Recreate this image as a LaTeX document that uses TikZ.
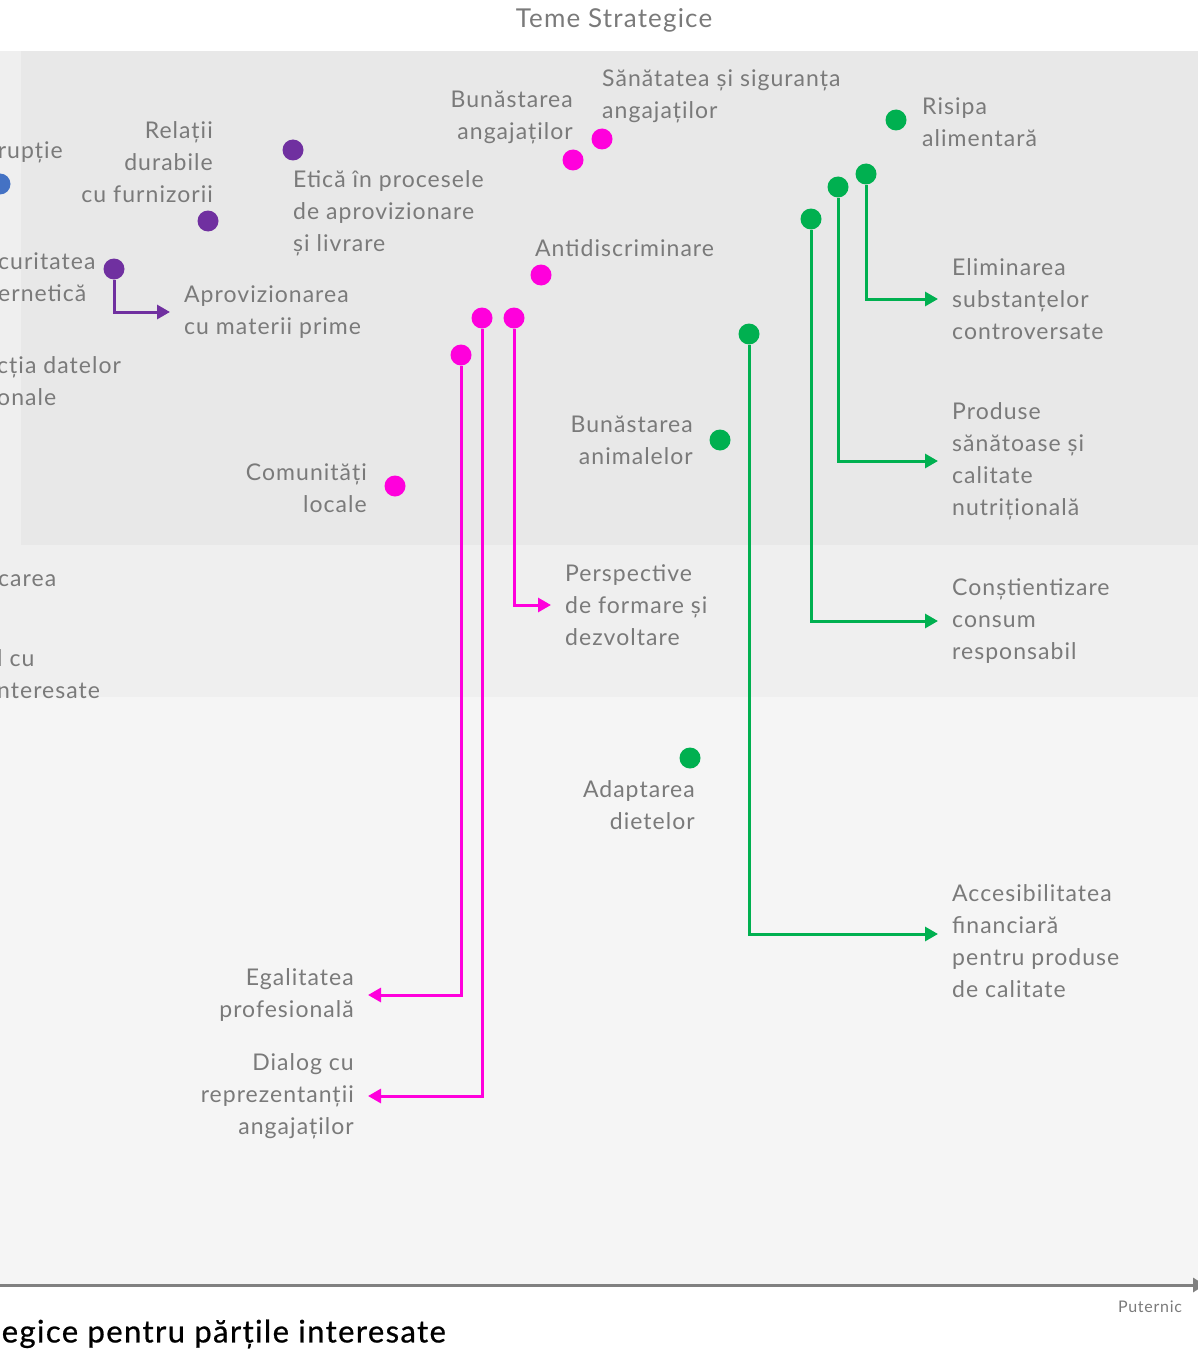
\documentclass[tikz,border=0pt]{standalone}
\usepackage{fontspec}
\setmainfont{Lato}[LetterSpace=4.5]
\newfontfamily\axisfont{Lato}[LetterSpace=4.5,FakeBold=0.7]
\usetikzlibrary{positioning,arrows.meta}
\definecolor{txtgray}{HTML}{7A7A7A}
\definecolor{axgray}{HTML}{808080}
\definecolor{pinkc}{HTML}{FF00DC}
\definecolor{greenc}{HTML}{00B050}
\definecolor{purplec}{HTML}{7030A0}
\definecolor{bluec}{HTML}{4472C4}
\definecolor{bandtop}{HTML}{E8E8E8}
\definecolor{bandmid}{HTML}{EFEFEF}
\definecolor{bandlow}{HTML}{F5F5F5}

\begin{document}
\begin{tikzpicture}[%
		x=1pt,
		y=-1pt,
		dot/.style={%
			circle,
			fill=#1,
			inner sep=0pt,
			minimum size=21pt
		},
		lbl/.style={%
			text=txtgray,
			font=\fontsize{23}{32}\selectfont,
			inner sep=0pt,
			yshift=-2pt
		},
		lblL/.style={lbl, anchor=west, align=left},
		lblR/.style={lbl, anchor=east, align=right},
		link/.style={%
			draw=#1,
			line width=3pt,
			-{Triangle[length=13pt,width=14pt]},
			shorten >=14pt
		}
		]
		\useasboundingbox (0,0) rectangle (1198,1351);
		\clip (0,0) rectangle (1198,1351);

		% bands
		\fill[bandmid] (0,51) rectangle (1198,697);
		\fill[bandtop] (21,51) rectangle (1198,545);
		\fill[bandlow] (0,697) rectangle (1198,1285);

		\node[lbl, font=\fontsize{26}{30}\selectfont] (title) at (614,18) {Teme Strategice};

		% axis
		\coordinate (axL) at (0,1285);
		\coordinate (axR) at (1205,1285);
		\draw[axgray, line width=3pt, -{Triangle[length=12pt,width=14pt]}] (axL) -- (axR);
		\node[lbl, font=\fontsize{16}{18}\selectfont] (strong) at (1150,1305) {Puternic};
		\node[lbl, text=black, anchor=east, font=\axisfont\fontsize{31}{36}\selectfont] (xtitle) at (446,1332) {egice pentru părțile interesate};

		% cut-off labels on the left edge
		\node[lblR] (l1) at (63,150) {rupție};
		\node[lblL] (l2) at (-2,275) {curitatea\\ernetică};
		\node[lblL] (l3) at (-3,379) {cția datelor\\onale};
		\node[lblL] (l4) at (-2,579) {carea};
		\node[lblL] (l5) at (-3,672) {l cu\\nteresate};

		% purple
		\node[dot=bluec] (d0) at (0,184) {};
		\node[dot=purplec] (p1) at (293,150) {};
		\node[dot=purplec] (p2) at (208,221) {};
		\node[dot=purplec] (p3) at (114,269) {};
		\node[lblL] (etica) at (293,211) {Etică în procesele\\de aprovizionare\\și livrare};
		\node[lblR] (relatii) at (213,160) {Relații\\durabile\\cu furnizorii};
		\node[lblL] (aprov) at (184,310) {Aprovizionarea\\cu materii prime};

		% pink
		\node[dot=pinkc] (k1) at (573,160) {};
		\node[dot=pinkc] (k2) at (602,139) {};
		\node[dot=pinkc] (k3) at (541,275) {};
		\node[dot=pinkc] (k4) at (482,318) {};
		\node[dot=pinkc] (k5) at (514,318) {};
		\node[dot=pinkc] (k6) at (461,355) {};
		\node[dot=pinkc] (k7) at (395,486) {};
		\node[lblR] (bunang) at (573,115) {Bunăstarea\\angajaților};
		\node[lblL] (sanat) at (602,94) {Sănătatea și siguranța\\angajaților};
		\node[lblL] (antid) at (535,246) {Antidiscriminare};
		\node[lblL] (persp) at (565,603) {Perspective\\de formare și\\dezvoltare};
		\node[lblR] (dialog) at (354,1094) {Dialog cu\\reprezentanții\\angajaților};
		\node[lblR] (egal) at (354,993) {Egalitatea\\profesională};
		\node[lblR] (comun) at (367,486) {Comunități\\locale};

		% green
		\node[dot=greenc] (g1) at (896,120) {};
		\node[dot=greenc] (g2) at (866,174) {};
		\node[dot=greenc] (g3) at (838,187) {};
		\node[dot=greenc] (g4) at (811,219) {};
		\node[dot=greenc] (g5) at (749,334) {};
		\node[dot=greenc] (g6) at (720,440) {};
		\node[dot=greenc] (g7) at (690,758) {};
		\node[lblL] (risipa) at (922,120) {Risipa\\alimentară};
		\node[lblL] (elim) at (952,297) {Eliminarea\\substanțelor\\controversate};
		\node[lblL] (prod) at (952,459) {Produse\\sănătoase și\\calitate\\nutrițională};
		\node[lblL] (const) at (952,619) {Conștientizare\\consum\\responsabil};
		\node[lblL] (acces) at (952,939) {Accesibilitatea\\financiară\\pentru produse\\de calitate};
		\node[lblR] (bunanim) at (693,438) {Bunăstarea\\animalelor};
		\node[lblR] (adapt) at (695,803) {Adaptarea\\dietelor};

		% connectors
		\draw[link=purplec] (p3) |- (aprov.west);
		\draw[link=pinkc] (k5) |- (persp.west);
		\draw[link=pinkc] (k4) |- (dialog.east);
		\draw[link=pinkc] (k6) |- (egal.east);
		\draw[link=greenc] (g2) |- (elim.west);
		\draw[link=greenc] (g3) |- (prod.west);
		\draw[link=greenc] (g4) |- (const.west);
		\draw[link=greenc] (g5) |- ([yshift=7pt]acces.west);
		\end{tikzpicture}
\end{document}
